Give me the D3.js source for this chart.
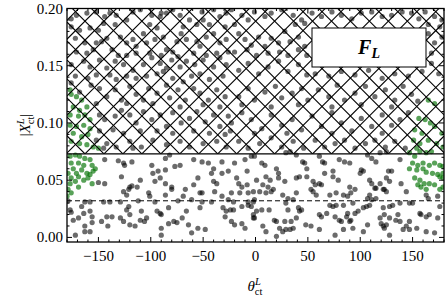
<!DOCTYPE html>
<html><head><meta charset="utf-8">
<script src="https://cdn.jsdelivr.net/npm/d3@7"></script>
<style>html,body{margin:0;padding:0;background:#fff;} svg{display:block;font-family:"Liberation Serif","Times New Roman",serif;}</style>
</head><body><svg id="c" width="445" height="299"></svg>
<script>
// ---------- data (theta_ct in degrees, |X_ct|) ----------
const greyPoints = [
// lower band, left half
[-144,.068],[-131,.067],[-126,.065],[-125,.063],[-118,.066],[-99,.063],[-86,.069],[-82,.072],[-72,.063],[-77,.062],[-59,.068],[-51,.066],[-45,.065],[-40,.060],[-32,.066],[-20,.065],[-10,.068],[-4,.071],[-8,.058],
[-144,.047],[-150,.048],[-128,.053],[-120,.044],[-118,.045],[-113,.044],[-110,.050],[-98,.056],[-93,.058],[-91,.052],[-96,.049],[-86,.059],[-86,.047],[-80,.044],[-80,.042],[-67,.042],[-59,.046],[-55,.052],[-53,.039],[-42,.056],[-40,.049],[-37,.047],[-32,.056],[-26,.058],[-18,.052],[-16,.047],[-13,.044],[-15,.039],[-8,.046],[1,.050],
[-126,.040],[-121,.042],[-123,.037],[-102,.039],[-101,.036],[-86,.037],[-69,.036],[-61,.033],[-51,.039],[-39,.040],[-32,.036],[-23,.039],[-7,.039],[-1,.033],
[-179,.032],[-163,.031],[-158,.031],[-145,.031],[-139,.031],[-129,.031],[-112,.032],[-96,.031],[-74,.032],[-51,.031],[-42,.031],[-26,.033],[-21,.031],[-7,.031],[-4,.027],
[-177,.024],[-176,.022],[-166,.027],[-164,.021],[-158,.023],[-156,.018],[-121,.027],[-123,.024],[-120,.020],[-109,.023],[-94,.023],[-91,.021],[-90,.020],[-83,.026],[-66,.023],[-53,.026],[-31,.026],[-28,.023],[-24,.024],[-21,.024],[-13,.027],[-7,.028],[-2,.020],
[-169,.017],[-174,.015],[-163,.010],[-156,.013],[-147,.014],[-142,.018],[-141,.010],[-137,.018],[-129,.017],[-126,.014],[-120,.011],[-115,.010],[-110,.015],[-106,.014],[-104,.017],[-90,.008],[-83,.012],[-78,.014],[-75,.013],[-70,.017],[-64,.011],[-61,.004],[-55,.008],[-48,.007],[-29,.018],[-23,.014],[-20,.011],[-13,.012],[-10,.008],[-1,.017],
[-172,.002],[-163,.005],[-158,.005],[-90,.002],
// lower band, right half
[-1,.071],[6,.065],[9,.063],[20,.060],[22,.056],[29,.074],[33,.075],[39,.072],[45,.066],[47,.065],[49,.060],[61,.071],[64,.066],[66,.065],[80,.068],[85,.066],[90,.065],[101,.059],[103,.058],[107,.072],[111,.069],[115,.066],[119,.074],[125,.075],[130,.058],[138,.068],
[10,.053],[14,.050],[7,.046],[12,.044],[22,.052],[28,.049],[39,.052],[42,.053],[49,.053],[55,.049],[57,.046],[61,.047],[63,.046],[66,.056],[74,.058],[74,.053],[79,.050],[90,.044],[100,.056],[109,.050],[111,.047],[114,.043],[119,.047],[122,.042],[125,.052],[127,.058],[128,.049],[139,.047],
[-2,.040],[4,.040],[10,.039],[15,.040],[17,.042],[26,.037],[31,.034],[36,.033],[39,.039],[53,.042],[55,.040],[58,.037],[71,.037],[77,.039],[84,.037],[88,.036],[91,.039],[95,.042],[107,.034],[109,.037],[115,.043],[123,.042],[125,.040],[144,.040],[163,.037],[165,.034],[174,.036],
[-2,.031],[1,.023],[6,.024],[13,.024],[29,.030],[31,.024],[42,.023],[41,.026],[44,.024],[71,.028],[74,.027],[77,.028],[84,.028],[93,.030],[95,.021],[106,.027],[109,.028],[111,.033],[115,.034],[122,.026],[123,.020],[128,.027],[131,.028],[138,.030],[147,.030],[150,.030],[157,.021],[158,.020],[176,.027],
[-2,.017],[18,.015],[20,.014],[28,.014],[34,.014],[39,.017],[61,.020],[63,.018],[68,.021],[76,.018],[80,.015],[82,.014],[87,.018],[88,.021],[90,.014],[91,.015],[98,.023],[103,.026],[119,.017],[120,.012],[125,.011],[128,.017],[134,.015],[136,.020],[138,.014],[144,.010],[147,.014],[163,.018],[166,.020],[174,.017],
[7,.010],[10,.005],[23,.008],[26,.005],[29,.007],[33,.007],[36,.008],[48,.011],[53,.010],[61,.007],[76,.002],[84,.007],[93,.008],[103,.005],[107,.011],[122,.010],[123,.008],[128,.002],[141,.007],[147,.007],[154,.008],[163,.005],[171,.004],[20,.001],
// upper (hatched) region, left half
[-176,.191],[-171,.194],[-161,.196],[-152,.197],[-144,.193],[-134,.186],[-133,.194],[-123,.190],[-117,.197],[-110,.199],[-99,.194],[-91,.193],[-85,.196],[-79,.199],[-72,.194],[-63,.190],[-56,.186],[-50,.190],[-40,.199],[-34,.193],[-28,.196],
[-176,.184],[-168,.181],[-158,.183],[-150,.181],[-145,.187],[-139,.196],[-101,.186],[-94,.183],[-90,.196],[-69,.184],[-51,.197],[-44,.186],[-29,.184],
[-172,.174],[-163,.170],[-152,.170],[-147,.171],[-142,.174],[-129,.175],[-123,.170],[-117,.173],[-114,.167],[-107,.178],[-104,.170],[-96,.173],[-88,.175],[-85,.164],[-75,.171],[-71,.178],[-66,.173],[-56,.171],[-53,.167],[-47,.175],[-40,.178],[-34,.170],[-28,.173],
[-171,.162],[-161,.161],[-155,.164],[-137,.164],[-131,.159],[-123,.159],[-114,.161],[-101,.161],[-90,.159],[-79,.162],[-74,.158],[-59,.161],[-47,.159],[-37,.161],[-26,.162],
[-176,.151],[-164,.154],[-158,.149],[-149,.155],[-142,.148],[-134,.154],[-126,.151],[-117,.146],[-107,.151],[-99,.157],[-91,.152],[-85,.148],[-80,.155],[-72,.149],[-66,.154],[-58,.151],[-50,.155],[-40,.149],[-34,.157],[-28,.151],
[-172,.141],[-160,.139],[-152,.142],[-139,.142],[-133,.138],[-123,.141],[-114,.139],[-104,.141],[-94,.143],[-88,.145],[-79,.139],[-69,.136],[-61,.141],[-53,.143],[-44,.138],[-31,.141],
[-176,.135],[-168,.127],[-157,.133],[-149,.130],[-142,.123],[-134,.129],[-128,.120],[-120,.132],[-114,.125],[-107,.120],[-102,.130],[-94,.126],[-85,.133],[-82,.122],[-74,.129],[-67,.120],[-59,.130],[-53,.126],[-45,.120],[-37,.129],[-29,.123],
[-152,.117],[-123,.117],[-98,.117],[-72,.114],[-50,.116],[-34,.114],
[-149,.107],[-144,.103],[-134,.106],[-128,.111],[-120,.107],[-114,.100],[-107,.110],[-99,.103],[-91,.107],[-85,.097],[-79,.109],[-71,.100],[-63,.104],[-56,.110],[-48,.101],[-40,.107],[-34,.097],[-26,.106],
[-149,.093],[-136,.094],[-126,.091],[-110,.093],[-94,.093],[-79,.091],[-59,.093],[-44,.091],[-29,.090],
[-152,.085],[-142,.082],[-133,.079],[-120,.084],[-109,.079],[-98,.085],[-85,.081],[-72,.084],[-63,.079],[-50,.082],[-37,.084],[-28,.079],[-145,.078],[-117,.078],
// upper (hatched) region, right half
[-23,.199],[-13,.194],[-7,.190],[-1,.197],[9,.193],[15,.196],[25,.199],[36,.194],[44,.190],[54,.196],[63,.193],[73,.197],[82,.194],[92,.191],[101,.196],[111,.197],[121,.193],[130,.194],[140,.197],[149,.196],[156,.191],[162,.197],[171,.193],[178,.190],
[-20,.186],[38,.186],[47,.187],[165,.186],[176,.184],
[-16,.178],[-10,.173],[-4,.168],[3,.175],[9,.167],[15,.174],[22,.170],[28,.180],[33,.171],[41,.175],[47,.167],
[-20,.162],[-8,.164],[1,.159],[12,.161],[23,.162],[31,.159],[41,.164],[49,.159],
[165,.178],[171,.170],[178,.175],[168,.161],
[57,.143],[70,.141],[82,.145],[95,.142],[108,.146],[121,.139],[133,.143],[146,.141],[159,.145],
[-16,.146],[-7,.152],[3,.143],[12,.149],[22,.154],[31,.145],[41,.151],[49,.142],[168,.152],[175,.143],
[-16,.123],[-7,.130],[-1,.120],[9,.127],[19,.132],[25,.122],[35,.126],[44,.130],[50,.120],[60,.129],[70,.123],[78,.133],[85,.120],[95,.126],[105,.132],[114,.123],[124,.129],[133,.120],[141,.132],[149,.125],[155,.119],
[-13,.116],[15,.114],[41,.116],[73,.114],[101,.116],[130,.114],
[-23,.100],[-13,.109],[-4,.103],[6,.095],[15,.107],[25,.098],[35,.103],[44,.094],[54,.106],[63,.097],[73,.109],[82,.100],[92,.093],[101,.104],[111,.097],[121,.107],[130,.098],[138,.103],[146,.109],
[-24,.093],[-1,.091],[30,.091],[73,.091],[121,.091],
[-16,.084],[-7,.078],[4,.082],[15,.087],[25,.079],[36,.084],[46,.078],[57,.085],[66,.079],[76,.082],[85,.085],[95,.078],[105,.082],[114,.085],[124,.079],[133,.084],[143,.078]
];
const greenPoints = [
[-177,.071],[-172,.072],[-168,.071],[-163,.069],[-158,.068],[-176,.065],[-169,.065],[-164,.063],[-156,.063],[-153,.060],[-174,.060],[-179,.056],[-171,.056],[-166,.059],[-161,.056],[-158,.055],[-155,.058],[-176,.052],[-169,.053],[-164,.050],[-160,.052],[-156,.047],[-177,.047],[-172,.049],[-179,.042],[-176,.039],[-169,.044],[-180,.036],
[-177,.129],[-176,.125],[-171,.123],[-166,.120],[-174,.114],[-168,.111],[-161,.114],[-177,.107],[-169,.106],[-163,.107],[-158,.103],[-177,.098],[-171,.097],[-164,.098],[-158,.095],[-174,.091],[-166,.088],[-160,.090],[-176,.084],[-168,.082],[-161,.081],[-155,.079],[-150,.078],
[147,.074],[152,.071],[157,.075],[163,.074],[168,.075],[150,.065],[155,.063],[160,.065],[166,.063],[171,.065],[176,.063],[179,.062],[147,.060],[154,.059],[160,.060],[163,.057],[169,.056],[174,.055],[179,.056],[152,.052],[157,.050],[161,.047],[166,.047],[171,.046],[176,.053],[179,.052],[155,.046],[158,.044],[163,.042],[176,.042],[179,.044],
[165,.120],[171,.117],[156,.104],[162,.103],[167,.100],[152,.094],[159,.091],[171,.097],[178,.091],[151,.085],[157,.082],[165,.085],[173,.082],[179,.079],[154,.078]
];
const xTicks = [-150,-100,-50,0,50,100,150];
const yTicks = [0,0.05,0.10,0.15,0.20];
const xDomain = [-180,180];
const yDomain = [-0.004,0.2];
const hatchLower = 0.073;
const dashedLevel = 0.032;
const legendMain = "F", legendSub = "L";

// ---------- layout ----------
const L=67, R=444, T=8.5, B=242;
const svg = d3.select("#c");
const x = d3.scaleLinear().domain(xDomain).range([L,R]);
const y = d3.scaleLinear().domain(yDomain).range([B,T]);

const defs = svg.append("defs");
defs.append("clipPath").attr("id","plotclip").append("rect")
  .attr("x",L).attr("y",T).attr("width",R-L).attr("height",B-T);
const yh = y(hatchLower);
defs.append("clipPath").attr("id","hatchclip").append("rect")
  .attr("x",L).attr("y",T).attr("width",R-L).attr("height",yh-T);

const plot = svg.append("g").attr("clip-path","url(#plotclip)");

plot.append("g").selectAll("circle").data(greyPoints).join("circle")
  .attr("cx",d=>x(d[0])).attr("cy",d=>y(d[1])).attr("r",2.6)
  .attr("fill","#000").attr("fill-opacity",0.58);
plot.append("g").selectAll("circle").data(greenPoints).join("circle")
  .attr("cx",d=>x(d[0])).attr("cy",d=>y(d[1])).attr("r",2.6)
  .attr("fill","#007000").attr("fill-opacity",0.65);

// hatch ('x') over region above hatchLower
const P = 18.96, x0 = 85, y0 = yh;
const hatch = svg.append("g").attr("clip-path","url(#hatchclip)")
  .attr("stroke","#000").attr("stroke-width",1.1);
const c0 = x0 - y0, d0 = x0 + y0;
for (let k=-40;k<=40;k++){
  const c = c0 + k*P; // x - y = c
  hatch.append("line").attr("x1",T-30+c).attr("y1",T-30).attr("x2",B+30+c).attr("y2",B+30);
  const d = d0 + k*P; // x + y = d
  hatch.append("line").attr("x1",d-(T-30)).attr("y1",T-30).attr("x2",d-(B+30)).attr("y2",B+30);
}
svg.append("line").attr("x1",L).attr("x2",R).attr("y1",yh).attr("y2",yh)
  .attr("stroke","#000").attr("stroke-width",1.2);
svg.append("line").attr("x1",L).attr("x2",R).attr("y1",y(dashedLevel)).attr("y2",y(dashedLevel))
  .attr("stroke","#000").attr("stroke-width",1).attr("stroke-dasharray","5,3");

// legend
svg.append("rect").attr("x",312).attr("y",28).attr("width",114).attr("height",39)
  .attr("fill","#fff").attr("stroke","#000").attr("stroke-width",1);
const lt = svg.append("text").attr("x",369).attr("y",53.5).attr("text-anchor","middle")
  .attr("font-style","italic").attr("font-weight","bold").attr("font-size",20);
lt.append("tspan").text(legendMain);
lt.append("tspan").attr("font-size",14).attr("dy",4).text(legendSub);

// axes frame and ticks
svg.append("rect").attr("x",L).attr("y",T).attr("width",R-L).attr("height",B-T)
  .attr("fill","none").attr("stroke","#000").attr("stroke-width",1.3);
const tk = svg.append("g").attr("stroke","#000").attr("stroke-width",1);
const xMinor = d3.range(-180,181,10).filter(v=>!xTicks.includes(v));
const yMinor = d3.range(0,21,1).map(v=>v/100).filter(v=>!yTicks.some(t=>Math.abs(t-v)<1e-9));
function xt(v,len){
  tk.append("line").attr("x1",x(v)).attr("x2",x(v)).attr("y1",B).attr("y2",B-len);
  tk.append("line").attr("x1",x(v)).attr("x2",x(v)).attr("y1",T).attr("y2",T+len);
}
function yt(v,len){
  tk.append("line").attr("y1",y(v)).attr("y2",y(v)).attr("x1",L).attr("x2",L+len);
  tk.append("line").attr("y1",y(v)).attr("y2",y(v)).attr("x1",R).attr("x2",R-len);
}
xTicks.forEach(v=>xt(v,5)); xMinor.forEach(v=>xt(v,2.5));
yTicks.forEach(v=>yt(v,5)); yMinor.forEach(v=>yt(v,2.5));

const fs = 15;
svg.append("g").selectAll("text").data(xTicks).join("text")
  .attr("x",d=>x(d)).attr("y",B+19).attr("text-anchor","middle").attr("font-size",fs)
  .text(d=>d<0?"\u2212"+Math.abs(d):String(d));
svg.append("g").selectAll("text").data(yTicks).join("text")
  .attr("x",L-4).attr("y",d=>y(d)+5).attr("text-anchor","end").attr("font-size",fs)
  .text(d=>d.toFixed(2));

// axis labels
const xl = svg.append("text").attr("x",255).attr("y",291).attr("text-anchor","middle").attr("font-size",15);
xl.append("tspan").attr("font-style","italic").text("θ");
xl.append("tspan").attr("font-style","italic").attr("font-size",10.5).attr("dy",-6).text("L");
xl.append("tspan").attr("font-size",10.5).attr("dx",-6).attr("dy",10).text("ct");

const yl = svg.append("text").attr("transform","translate(30,125) rotate(-90)")
  .attr("text-anchor","middle").attr("font-size",15);
yl.append("tspan").text("|");
yl.append("tspan").attr("font-style","italic").text("X");
yl.append("tspan").attr("font-style","italic").attr("font-size",10.5).attr("dy",-6).text("L");
yl.append("tspan").attr("font-size",10.5).attr("dx",-6).attr("dy",10).text("ct");
yl.append("tspan").attr("dy",-4).text("|");
</script></body></html>
